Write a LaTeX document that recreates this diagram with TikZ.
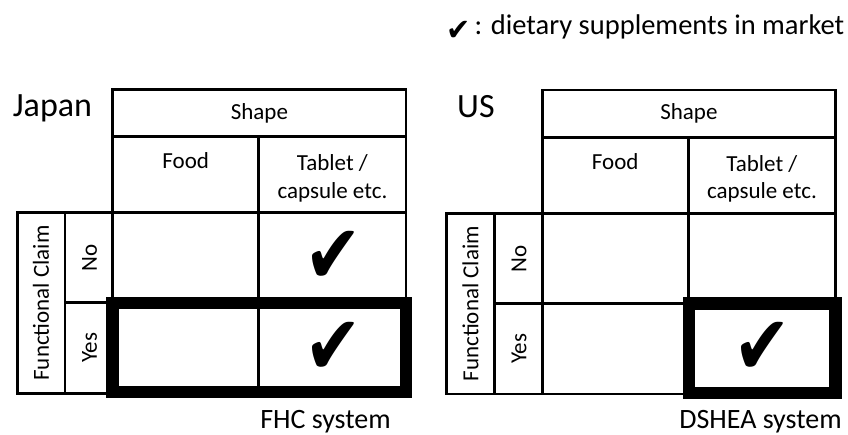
\documentclass[tikz,border=0pt]{standalone}
\usepackage{fontspec}
\usepackage{graphicx}
\setmainfont{Carlito}
\newfontfamily\symfont{DejaVu Sans}
\begin{document}
\begin{tikzpicture}[x=1pt,y=-1pt,
  gridline/.style={line width=2.8pt},
  thickframe/.style={line width=12.5pt},
  cell/.style={font=\fontsize{23}{27.5}\selectfont, align=center, inner sep=0pt},
  title/.style={font=\fontsize{34}{40}\selectfont, inner sep=0pt, anchor=base west},
  caption/.style={font=\fontsize{28}{34}\selectfont, inner sep=0pt, anchor=base},
  bigcheck/.style={font=\symfont\fontsize{69}{69}\selectfont, inner sep=0pt}]
\useasboundingbox (0,0) rectangle (848,435);

% legend
\node[inner sep=0pt, anchor=center, font=\symfont\fontsize{29}{30}\selectfont] (legendmark) at (458.5,31)
  {\scalebox{1}[1.05]{✔}};
\node[inner sep=0pt, anchor=base west, font=\fontsize{28.5}{34}\selectfont] (legend) at (474.5,35)
  {: dietary supplements in market};

% ---------- Japan ----------
\node[title] (jptitle) at (12.7,117) {Japan};
\draw[gridline] (112.7,89.3) rectangle (406,212.7);
\draw[gridline] (112.7,136.7) -- (406,136.7);
\draw[gridline] (258.7,136.7) -- (258.7,393.3);
\draw[gridline] (17.3,212.7) rectangle (406,393.3);
\draw[gridline] (65,212.7) -- (65,393.3);
\draw[gridline] (112.7,212.7) -- (112.7,393.3);
\draw[gridline] (65,302.7) -- (406,302.7);
\draw[thickframe] (112.6,303) rectangle (406.2,392);

\node[cell] (jpshape) at (259.4,113) {Shape};
\node[cell, anchor=base] (jpfood) at (185.7,169) {Food};
\node[cell] (jptablet) at (332.4,178.2) {Tablet /\\capsule etc.};
\node[cell, rotate=90] (jpclaim) at (41,303) {Functional Claim};
\node[cell, rotate=90] (jpno) at (89.5,258) {No};
\node[cell, rotate=90] (jpyes) at (89.5,348) {Yes};
\node[bigcheck] (jpcheckno) at (333,257.5) {\scalebox{1}[1.2]{✔}};
\node[bigcheck] (jpcheckyes) at (333,348) {\scalebox{1}[1.2]{✔}};
\node[caption] (jpcap) at (325.5,428) {FHC system};

% ---------- US ----------
\begin{scope}[shift={(429.5,0.7)}]
\node[title] (ustitle) at (27.5,117) {US};
\draw[gridline] (112.7,89.3) rectangle (406,212.7);
\draw[gridline] (112.7,136.7) -- (406,136.7);
\draw[gridline] (258.7,136.7) -- (258.7,393.3);
\draw[gridline] (17.3,212.7) rectangle (406,393.3);
\draw[gridline] (65,212.7) -- (65,393.3);
\draw[gridline] (112.7,212.7) -- (112.7,393.3);
\draw[gridline] (65,302.7) -- (406,302.7);
\draw[thickframe] (259.5,303) rectangle (406.2,392.5);

\node[cell] (usshape) at (259.4,113) {Shape};
\node[cell, anchor=base] (usfood) at (185.7,169) {Food};
\node[cell] (ustablet) at (332.4,178.2) {Tablet /\\capsule etc.};
\node[cell, rotate=90] (usclaim) at (41,303) {Functional Claim};
\node[cell, rotate=90] (usno) at (89.5,258) {No};
\node[cell, rotate=90] (usyes) at (89.5,348) {Yes};
\node[bigcheck] (uscheckyes) at (333,348) {\scalebox{1}[1.2]{✔}};
\node[caption] (uscap) at (331,427.3) {DSHEA system};
\end{scope}
\end{tikzpicture}
\end{document}
